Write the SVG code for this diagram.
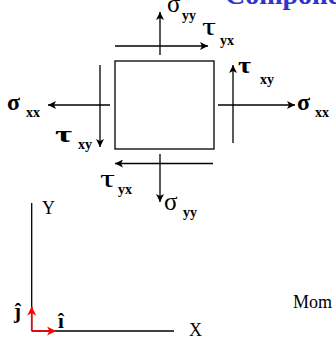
<svg xmlns="http://www.w3.org/2000/svg" width="336" height="343" viewBox="0 0 336 343">
<defs>
<marker id="ah" markerWidth="9" markerHeight="8" refX="8" refY="4" orient="auto" markerUnits="userSpaceOnUse">
<path d="M0,0 L8,4 L0,8 L2,4 z" fill="#000"/>
</marker>
<marker id="ahr" markerWidth="10" markerHeight="9" refX="9" refY="4.5" orient="auto" markerUnits="userSpaceOnUse">
<path d="M0,0 L9,4.5 L0,9 L2.5,4.5 z" fill="#f00"/>
</marker>
<style>
.ln{stroke:#000;stroke-width:1.3;fill:none}
.ar{stroke:#000;stroke-width:1.3;fill:none;marker-end:url(#ah)}
.rd{stroke:#f00;stroke-width:1.6;fill:none;marker-end:url(#ahr)}
.g{font-family:"Liberation Serif","DejaVu Serif",serif;font-size:25px;fill:#000}
.gb{font-family:"Liberation Serif","DejaVu Serif",serif;font-size:24px;font-weight:bold;fill:#000}
.s{font-family:"Liberation Serif","DejaVu Serif",serif;font-size:14px;font-weight:bold;fill:#000}
.t{font-family:"Liberation Serif","DejaVu Serif",serif;font-size:18px;fill:#000}
.u{font-family:"Liberation Serif","DejaVu Serif",serif;font-size:21px;font-weight:bold;fill:#000}
</style>
</defs>
<text x="225" y="4" font-family="Liberation Serif, serif" font-size="28" font-weight="bold" fill="#3333cc">Components</text>
<g id="element">
<rect x="115" y="61" width="99" height="88" class="ln"/>
</g>
<g id="connectors">
<line x1="115" y1="46" x2="208" y2="46" class="ar"/>
<line x1="160" y1="55" x2="160" y2="12" class="ar"/>
<line x1="233" y1="143" x2="233" y2="65" class="ar"/>
<line x1="218" y1="105" x2="295" y2="105" class="ar"/>
<line x1="110" y1="105" x2="48" y2="105" class="ar"/>
<line x1="100" y1="65" x2="100" y2="147" class="ar"/>
<line x1="213" y1="163.5" x2="115" y2="163.5" class="ar"/>
<line x1="160" y1="154" x2="160" y2="202" class="ar"/>
</g>
<g id="labels">
<text x="167" y="12" class="g">σ</text><text x="182" y="19.5" class="s">yy</text>
<text x="202" y="35" class="g" textLength="14" lengthAdjust="spacingAndGlyphs">τ</text><text x="220" y="44.5" class="s">yx</text>
<text x="238" y="73" class="gb" textLength="13" lengthAdjust="spacingAndGlyphs">τ</text><text x="260" y="83.5" class="s">xy</text>
<text x="297" y="110" class="gb">σ</text><text x="315" y="117" class="s">xx</text>
<text x="7" y="110" class="gb">σ</text><text x="26" y="116.5" class="s">xx</text>
<text x="55" y="142" class="gb" textLength="17" lengthAdjust="spacingAndGlyphs">τ</text><text x="78" y="149" class="s">xy</text>
<text x="100" y="187" class="g" textLength="15" lengthAdjust="spacingAndGlyphs">τ</text><text x="118" y="193.5" class="s">yx</text>
<text x="164" y="210" class="g">σ</text><text x="183" y="216.5" class="s">yy</text>
</g>
<g id="axes">
<line x1="31.7" y1="203" x2="31.7" y2="331" class="ln"/>
<line x1="31.7" y1="331" x2="174" y2="331" class="ln"/>
<text x="42" y="214" class="t">Y</text>
<text x="189" y="336" class="t">X</text>
<line x1="31.7" y1="331" x2="31.7" y2="306.5" class="rd"/>
<line x1="31.7" y1="331" x2="56" y2="331" class="rd"/>
<text x="14" y="318" class="u">ĵ</text>
<text x="58" y="328" class="u">î</text>
</g>
<text x="293" y="308" font-family="Liberation Serif, serif" font-size="18" fill="#000">Mom</text>
</svg>
